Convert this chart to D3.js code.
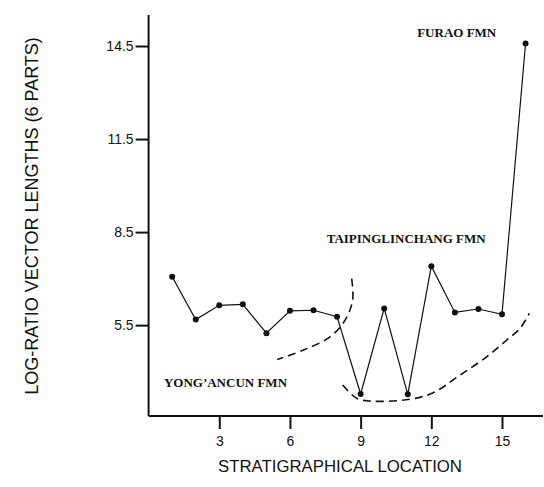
<!DOCTYPE html>
<html>
<head>
<meta charset="utf-8">
<script src="https://cdn.jsdelivr.net/npm/d3@7"></script>
<style>
  body { margin: 0; background: #fff; }
  svg { display: block; }
</style>
</head>
<body>
<div id="chart"></div>
<script>
// stratigraphical location and log-ratio vector length
var locations = [1, 2, 3, 4, 5, 6, 7, 8, 9, 10, 11, 12, 13, 14, 15, 16];
var lengths = [7.06, 5.68, 6.14, 6.17, 5.24, 5.96, 5.98, 5.77, 3.28, 6.04, 3.27, 7.40, 5.91, 6.02, 5.85, 14.58];
var xTicks = [3, 6, 9, 12, 15];
var yTicks = [5.5, 8.5, 11.5, 14.5];

// dashed boundaries between formations (data units)
var boundary1 = [[8.62, 7.00], [8.66, 6.31], [8.34, 5.66], [7.70, 5.12], [6.55, 4.69], [5.46, 4.39]];
var boundary2 = [[8.24, 3.57], [8.83, 3.14], [9.40, 3.05], [11.09, 3.11], [12.08, 3.32], [13.22, 3.89], [14.35, 4.48], [15.20, 5.02], [15.76, 5.39], [16.16, 5.88]];

var labels = [
  {text: "FURAO FMN", x: 11.40, y: 14.80},
  {text: "TAIPINGLINCHANG FMN", x: 7.56, y: 8.16},
  {text: "YONG\u2019ANCUN FMN", x: 0.65, y: 3.50}
];

var width = 544, height = 487;
var plotLeft = 148.6, plotRight = 543, plotTop = 15, plotBottom = 416;

var svg = d3.select("#chart").append("svg")
    .attr("width", width).attr("height", height);

var x = d3.scaleLinear().domain([0, (plotRight - plotLeft) / 23.56]).range([plotLeft, plotRight]);
var y = d3.scaleLinear().domain([2.57, 15.5]).range([plotBottom, plotTop]);

var xAxis = svg.append("g").attr("transform", "translate(0," + plotBottom + ")")
    .call(d3.axisBottom(x).tickValues(xTicks).tickSize(13).tickPadding(7).tickFormat(d3.format("d")));
var yAxis = svg.append("g").attr("transform", "translate(" + plotLeft + ",0)")
    .call(d3.axisLeft(y).tickValues(yTicks).tickSize(13).tickPadding(2).tickFormat(d3.format(".1f")));

[xAxis, yAxis].forEach(function (g) {
  g.select(".domain").attr("stroke", "#111").attr("stroke-width", 2);
  g.selectAll(".tick line").attr("stroke", "#111").attr("stroke-width", 2);
  g.selectAll(".tick text").attr("fill", "#111")
    .style("font-family", "Liberation Sans, Arial, sans-serif").style("font-size", "14px");
});
xAxis.select(".domain").attr("d", "M" + plotLeft + ",0H" + plotRight);
yAxis.select(".domain").attr("d", "M0," + plotTop + "V" + plotBottom);

var line = d3.line().x(function (d, i) { return x(locations[i]); }).y(function (d) { return y(d); });
svg.append("path").datum(lengths)
    .attr("d", line).attr("fill", "none").attr("stroke", "#111").attr("stroke-width", 1.2);

svg.selectAll("circle.pt").data(lengths).enter().append("circle")
    .attr("class", "pt")
    .attr("cx", function (d, i) { return x(locations[i]); })
    .attr("cy", function (d) { return y(d); })
    .attr("r", 3).attr("fill", "#111");

var curve = d3.line().curve(d3.curveCatmullRom).x(function (d) { return x(d[0]); }).y(function (d) { return y(d[1]); });
[boundary1, boundary2].forEach(function (b) {
  svg.append("path").attr("d", curve(b))
    .attr("fill", "none").attr("stroke", "#111").attr("stroke-width", 1.6)
    .attr("stroke-dasharray", "8,5");
});

svg.selectAll("text.fmn").data(labels).enter().append("text")
    .attr("class", "fmn")
    .attr("x", function (d) { return x(d.x); })
    .attr("y", function (d) { return y(d.y); })
    .text(function (d) { return d.text; })
    .style("font-family", "Liberation Serif, Times New Roman, serif")
    .style("font-weight", "bold").style("font-size", "13px").attr("fill", "#111");

svg.append("text")
    .attr("x", 340).attr("y", 472)
    .attr("text-anchor", "middle")
    .style("font-family", "Liberation Sans, Arial, sans-serif").style("font-size", "16.8px")
    .attr("fill", "#111")
    .text("STRATIGRAPHICAL LOCATION");

svg.append("text")
    .attr("transform", "translate(38,216) rotate(-90)")
    .attr("text-anchor", "middle")
    .style("font-family", "Liberation Sans, Arial, sans-serif").style("font-size", "18px")
    .attr("fill", "#111")
    .text("LOG-RATIO VECTOR LENGTHS (6 PARTS)");
</script>
</body>
</html>
